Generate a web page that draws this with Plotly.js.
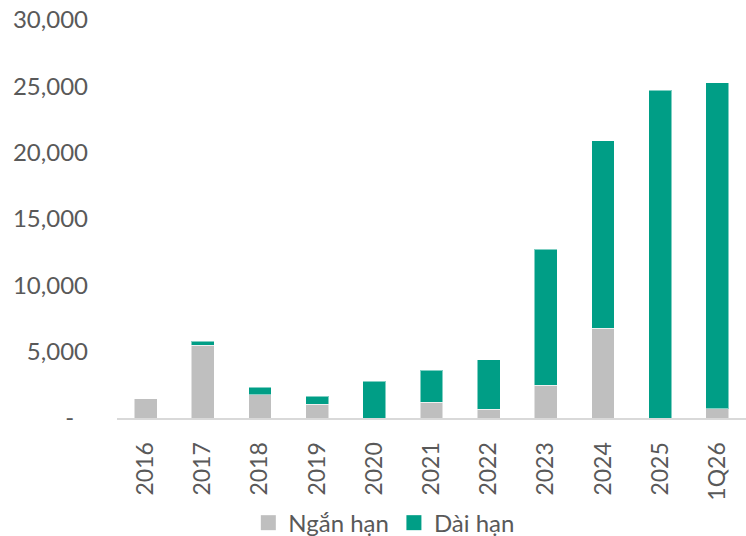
<!DOCTYPE html>
<html>
<head>
<meta charset="utf-8">
<script src="https://cdn.plot.ly/plotly-3.0.1.min.js"></script>
<style>html,body{margin:0;padding:0;background:#fff;}#chart{width:746px;height:536px;}</style>
</head>
<body>
<div id="chart"></div>
<script>
const categories = ["2016","2017","2018","2019","2020","2021","2022","2023","2024","2025","1Q26"];
const shortTerm = [1440, 5480, 1750, 1050, 0, 1200, 650, 2480, 6780, 0, 700];
const longTerm  = [0, 300, 550, 580, 2760, 2390, 3740, 10250, 14110, 24700, 24560];
const seriesNames = ["Ngắn hạn", "Dài hạn"];
const seriesColors = ["#bfbfbf", "#009e86"];
const yTickVals = [0, 5000, 10000, 15000, 20000, 25000, 30000];
const yTickText = ["-\u2007", "5,000", "10,000", "15,000", "20,000", "25,000", "30,000"];

const font = {family: "Lato, 'Noto Sans', sans-serif", size: 24, color: "#595959"};
const xFont = {family: "Lato, 'Noto Sans', sans-serif", size: 23, color: "#595959"};

const traces = [
  {type: "bar", name: seriesNames[0], x: categories, y: shortTerm, showlegend: false,
   marker: {color: seriesColors[0], line: {color: "rgba(255,255,255,0.5)", width: 1}}, width: 0.4},
  {type: "bar", name: seriesNames[1], x: categories, y: longTerm, showlegend: false,
   marker: {color: seriesColors[1], line: {color: "rgba(255,255,255,0.5)", width: 1}}, width: 0.4},
  {type: "scatter", mode: "markers", name: seriesNames[0], x: [null], y: [null],
   marker: {symbol: "square", size: 15, color: seriesColors[0]}},
  {type: "scatter", mode: "markers", name: seriesNames[1], x: [null], y: [null],
   marker: {symbol: "square", size: 15, color: seriesColors[1]}}
];

const layout = {
  width: 746, height: 536,
  margin: {l: 117, r: 0, t: 20, b: 118, autoexpand: false},
  barmode: "stack",
  paper_bgcolor: "#fff", plot_bgcolor: "#fff",
  font: font,
  showlegend: true,
  legend: {orientation: "h", x: 0.425, xanchor: "center", y: -0.264, yanchor: "middle",
           font: font, itemclick: false, traceorder: "normal", itemwidth: 30},
  xaxis: {type: "category", categoryarray: categories, categoryorder: "array",
          tickangle: -90, showgrid: false, showline: true,
          linecolor: "#d9d9d9", linewidth: 2, ticks: "", tickfont: xFont,
          ticklabelstandoff: 13, fixedrange: true, automargin: false},
  yaxis: {range: [0, 30000], tickvals: yTickVals, ticktext: yTickText, showgrid: false,
          showline: false, zeroline: false, ticks: "", tickfont: font,
          ticklabelstandoff: 28, fixedrange: true, automargin: false}
};

Plotly.newPlot("chart", traces, layout, {displayModeBar: false, staticPlot: true});
</script>
</body>
</html>
